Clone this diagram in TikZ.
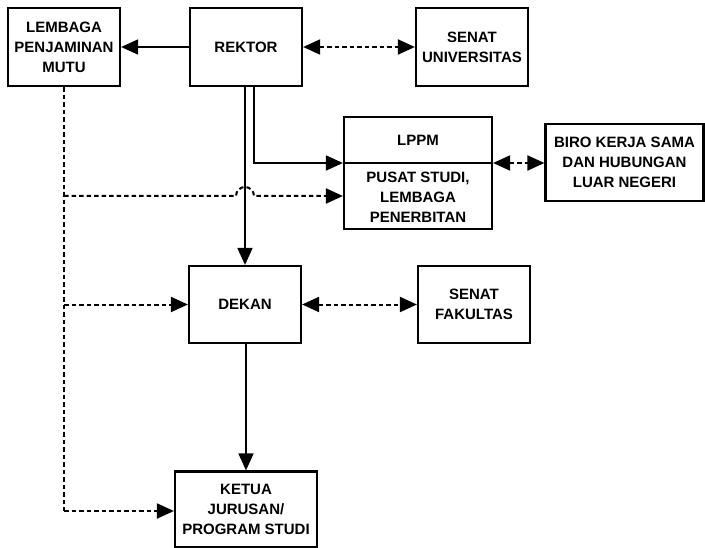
\documentclass[tikz,border=0pt]{standalone}
\usepackage{fontspec}
\setmainfont{Liberation Sans}
\usetikzlibrary{arrows.meta}
\begin{document}
\begin{tikzpicture}[x=1bp,y=-1bp,
  box/.style={draw,line width=2.2bp,rectangle,inner sep=0pt,align=center,
    font=\fontsize{15bp}{20bp}\selectfont\bfseries},
  txt/.style={inner sep=0pt,align=center,font=\fontsize{15bp}{20bp}\selectfont\bfseries},
  tip/.style={},
  solidarr/.style={line width=1.8bp,-{Triangle[length=17bp,width=15bp]}},
  dotline/.style={line width=2bp,dash pattern=on 4.5bp off 3bp},
  dotarr/.style={dotline,-{Triangle[length=17bp,width=15bp]}},
  dotboth/.style={dotline,{Triangle[length=17bp,width=15bp]}-{Triangle[length=17bp,width=15bp]}}
]
\useasboundingbox (0,0) rectangle (705,548);

\node[box,minimum width=112bp,minimum height=78bp] (lpm) at (64,47) {LEMBAGA\\PENJAMINAN\\MUTU};
\node[box,minimum width=112bp,minimum height=78bp] (rek) at (246,47) {REKTOR};
\node[box,minimum width=112bp,minimum height=78bp] (snu) at (472,47) {SENAT\\UNIVERSITAS};
\node[box,minimum width=148bp,minimum height=112bp] (lppm) at (418,173) {};
\node[txt] (lppmt) at (418,140) {LPPM};
\node[txt] (pusat) at (418,197) {PUSAT STUDI,\\LEMBAGA\\PENERBITAN};
\node[box,minimum width=158bp,minimum height=77bp] (biro) at (624.5,162.5) {BIRO KERJA SAMA\\DAN HUBUNGAN\\LUAR NEGERI};
\node[box,minimum width=112bp,minimum height=77bp] (dek) at (245,304.5) {DEKAN};
\node[box,minimum width=112bp,minimum height=77bp] (snf) at (474,304.5) {SENAT\\FAKULTAS};
\node[box,minimum width=142bp,minimum height=76bp] (ket) at (246,509.5) {KETUA\\JURUSAN/\\PROGRAM STUDI};

% divider in LPPM box
\coordinate (divL) at (lppm.west |- 0,163);
\coordinate (divR) at (lppm.east |- 0,163);
\draw[line width=2.2bp] (divL) -- (divR);

% Rektor -> LPM
\draw[solidarr] (rek.west) -- (lpm.east);
% Rektor <-> Senat Univ
\draw[dotboth] (rek.east) -- (snu.west);
% Rektor -> LPPM
\coordinate (r2) at (254,86);
\coordinate (r2c) at (254,163);
\draw[solidarr] (r2) -- (r2c) -- (divL);
% Rektor -> Dekan
\draw[solidarr] (rek.south -| dek.north) -- (dek.north);
% LPPM <-> Biro
\draw[dotboth] (divR) -- (biro.west |- divR);
% Dekan <-> Senat Fakultas
\draw[dotboth] (dek.east) -- (snf.west);
% Dekan -> Ketua
\draw[solidarr] (dek.south -| ket.north) -- (ket.north);

% LPM dashed lines
\coordinate (l1) at (lpm.south);
\coordinate (lhop) at (64,196);
\coordinate (ldek) at (64,304.5);
\coordinate (lket) at (64,511);
\draw[dotline] (l1) -- (lket);
\draw[dotarr] (lhop) -- (236,196) arc[start angle=180,end angle=360,radius=9] -- (lppm.west |- lhop);
\draw[dotarr] (ldek) -- (dek.west);
\draw[dotarr] (lket) -- (ket.west |- lket);
\end{tikzpicture}
\end{document}
